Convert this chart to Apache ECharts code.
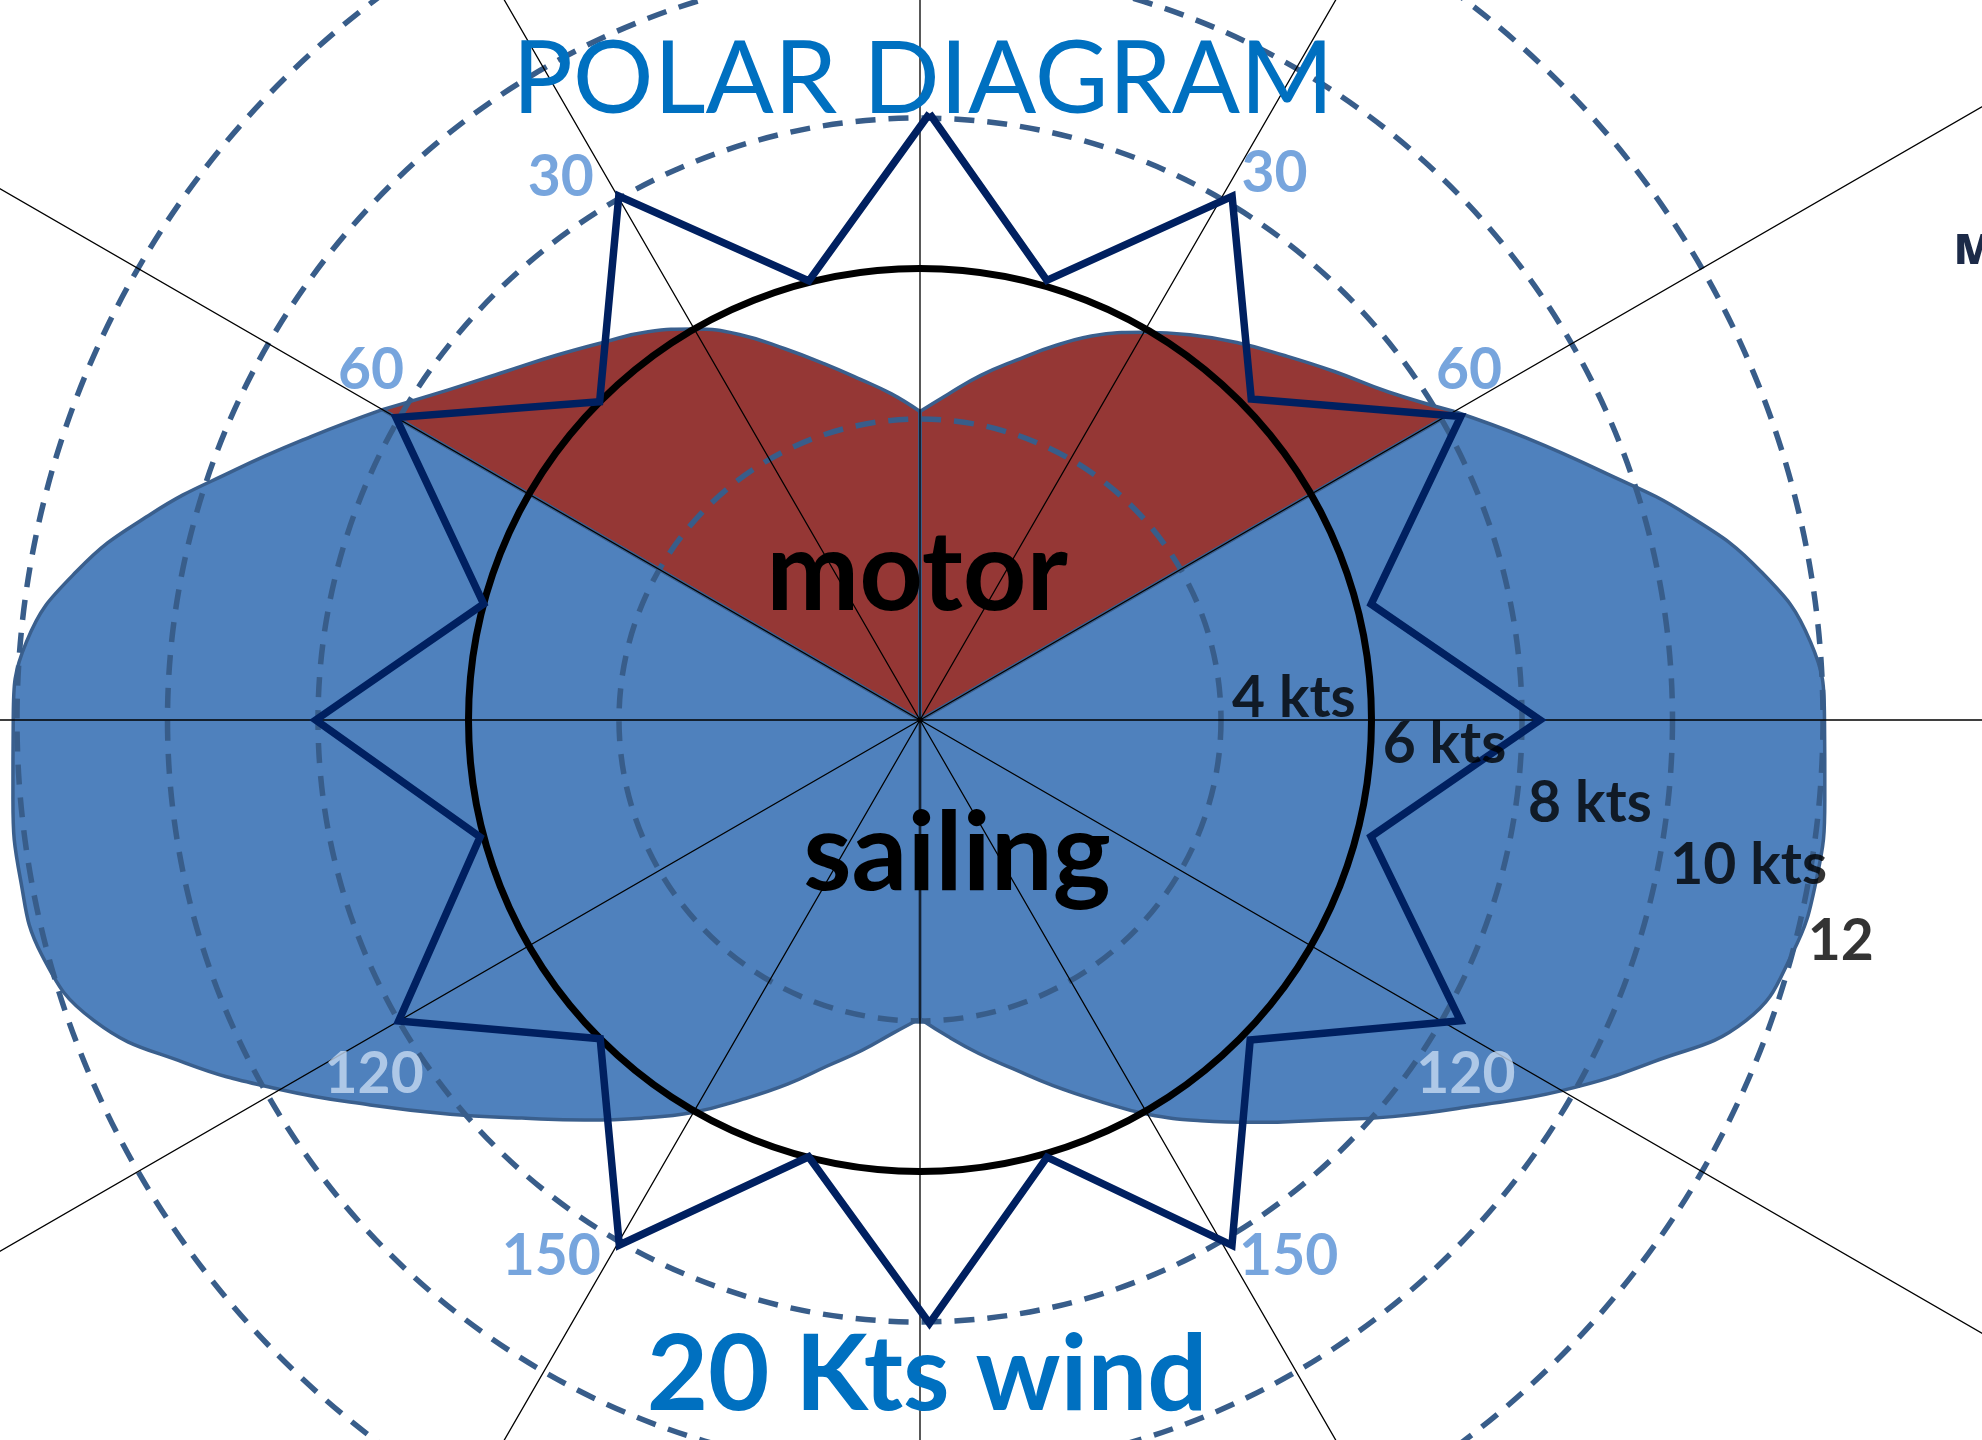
<!DOCTYPE html>
<html><head><meta charset="utf-8">
<script src="https://cdn.jsdelivr.net/npm/echarts@6/dist/echarts.min.js"></script>
<style>html,body{margin:0;padding:0;background:#fff}#c{width:1982px;height:1440px}</style>
</head><body><div id="c"></div>
<script>
// ---------------- data ----------------
// motor region (upwind), starboard side: angle (deg) / boat speed (kts)
const motorAnglesStbd = [0, 5, 10, 15, 20, 25, 30, 35, 40, 45, 50, 55, 60];
const motorSpeedStbd  = [4.1, 4.35, 4.65, 4.95, 5.3, 5.65, 5.95, 6.25, 6.55, 6.85, 7.2, 7.6, 8.2];
// motor region, port side
const motorAnglesPort = [360, 355, 350, 345, 340, 335, 330, 325, 320, 315, 310, 305, 300];
const motorSpeedPort  = [4.1, 4.35, 4.6, 4.9, 5.25, 5.65, 6.0, 6.3, 6.55, 6.85, 7.2, 7.65, 8.25];
// sailing region, starboard side
const sailAnglesStbd = [60, 65, 70, 75, 80, 85, 90, 95, 100, 105, 110, 115, 120, 125, 130, 135, 140, 145, 150, 155, 160, 165, 170, 175, 180];
const sailSpeedStbd  = [8.2, 8.88, 9.65, 10.55, 11.35, 11.88, 12.02, 12.07, 12.1, 12.0, 11.68, 10.75, 9.85, 8.95, 8.2, 7.52, 6.98, 6.5, 6.05, 5.58, 5.17, 4.8, 4.5, 4.22, 3.97];
// sailing region, port side
const sailAnglesPort = [300, 295, 290, 285, 280, 275, 270, 265, 260, 255, 250, 245, 240, 235, 230, 225, 220, 215, 210, 205, 200, 195, 190, 185, 180];
const sailSpeedPort  = [8.25, 8.92, 9.7, 10.58, 11.38, 11.92, 12.05, 12.1, 12.14, 12.08, 11.68, 10.78, 9.82, 8.92, 8.15, 7.48, 6.94, 6.46, 6.02, 5.56, 5.15, 4.76, 4.46, 4.18, 3.97];
// star-shaped line (vertices as read)
const starAngles = [0.9, 16.1, 30.8, 45.9, 60.7, 75.6, 90, 104.5, 119.1, 134.1, 149.3, 163.8, 179.1, 194.3, 209.8, 225.1, 240, 255.1, 270, 284.9, 300, 314.8, 330.1, 345.8, 360.9];
const starSpeed  = [8.06, 6.08, 8.1, 6.13, 8.24, 6.19, 8.24, 6.19, 8.22, 6.11, 8.12, 6.05, 8.02, 5.99, 8.04, 6.0, 8.0, 6.05, 8.03, 6.0, 8.04, 6.0, 8.03, 6.02, 8.06];
// motor speed ring
const motorRing = 6;
// radius axis
const radiusTicks = [0, 2, 4, 6, 8, 10, 12, 14, 16, 18];
const dashedRings = [4, 8, 10, 12];
// ring labels
const ringLabels = ['4 kts', '6 kts', '8 kts', '10 kts', '12'];
const ringLabelSpeeds = [4, 6, 8, 10, 12];
// angle labels
const angleLabels = ['30', '60', '120', '150', '150', '120', '60', '30'];
const angleLabelAngles = [33, 57.5, 123, 145.5, 214.5, 237, 302.5, 326.5];

// ---------------- layout / style ----------------
const CENTER = [920, 720];
const PX_PER_KT = 75.25;
const RMAX = radiusTicks[radiusTicks.length - 1];
const ringLabelAngles = [86, 93, 97.8, 101, 104];
const ringLabelOffset = 0.15;
const angleLabelRadius = 8.65;

const BLUE = '#4F81BD', RED = '#953735', EDGE = '#3A5F8D', RING = '#385D8A', STAR = '#002060';
const zip = (r, a) => r.map((v, i) => [v, a[i]]);
const edgeOf = (r, a) => [[r[0], a[0]], [0, a[0]], [0, a[a.length - 1]], [r[r.length - 1], a[a.length - 1]]];

const ringColors = radiusTicks.map(v => dashedRings.includes(v) ? RING : 'rgba(0,0,0,0)');
const motorColors = radiusTicks.map(v => v === motorRing ? '#000' : 'rgba(0,0,0,0)');

function fillSeries(r, a, color) {
  return {
    type: 'line', coordinateSystem: 'polar', polarIndex: 0,
    data: zip(r, a), smooth: 0.45, symbol: 'none', z: 2,
    lineStyle: { color: EDGE, width: 3.5 },
    areaStyle: { color: color, opacity: 1 }
  };
}
function edgeSeries(r, a) {
  return {
    type: 'line', coordinateSystem: 'polar', polarIndex: 0,
    data: edgeOf(r, a), symbol: 'none', z: 3,
    lineStyle: { color: EDGE, width: 3.5 }
  };
}

const chart = echarts.init(document.getElementById('c'), null, { renderer: 'canvas' });
const baseAxisHide = { axisLine: { show: false }, axisTick: { show: false }, axisLabel: { show: false } };

chart.setOption({
  animation: false,
  backgroundColor: '#fff',
  polar: [
    { center: CENTER, radius: RMAX * PX_PER_KT },
    { center: CENTER, radius: RMAX * PX_PER_KT }
  ],
  angleAxis: [
    Object.assign({ polarIndex: 0, type: 'value', min: 0, max: 360, interval: 30, startAngle: 90, clockwise: true, z: 5,
      splitLine: { show: true, lineStyle: { color: '#000', width: 1.3 } } }, baseAxisHide),
    Object.assign({ polarIndex: 1, type: 'value', min: 0, max: 360, interval: 30, startAngle: 90, clockwise: true,
      splitLine: { show: false } }, baseAxisHide)
  ],
  radiusAxis: [
    Object.assign({ polarIndex: 0, type: 'value', min: 0, max: RMAX, interval: 2, z: 5,
      splitLine: { show: true, lineStyle: { color: ringColors, width: 5.5, type: [20, 13] } } }, baseAxisHide),
    Object.assign({ polarIndex: 1, type: 'value', min: 0, max: RMAX, interval: 2, z: 7,
      splitLine: { show: true, lineStyle: { color: motorColors, width: 7 } } }, baseAxisHide)
  ],
  series: [
    fillSeries(sailSpeedStbd, sailAnglesStbd, BLUE),
    fillSeries(sailSpeedPort, sailAnglesPort, BLUE),
    fillSeries(motorSpeedStbd, motorAnglesStbd, RED),
    fillSeries(motorSpeedPort, motorAnglesPort, RED),
    edgeSeries(sailSpeedStbd, sailAnglesStbd),
    edgeSeries(sailSpeedPort, sailAnglesPort),
    edgeSeries(motorSpeedStbd, motorAnglesStbd),
    edgeSeries(motorSpeedPort, motorAnglesPort),
    {
      type: 'line', coordinateSystem: 'polar', polarIndex: 0, z: 8,
      data: zip(starSpeed, starAngles), symbol: 'none',
      lineStyle: { color: STAR, width: 7.5, join: 'miter' }
    },
    {
      type: 'scatter', coordinateSystem: 'polar', polarIndex: 0, z: 10,
      symbolSize: 1, itemStyle: { color: 'rgba(0,0,0,0)' },
      data: ringLabels.map((t, i) => ({ name: t, value: [ringLabelSpeeds[i] + ringLabelOffset, ringLabelAngles[i]] })),
      label: { show: true, position: 'right', distance: 0, formatter: p => p.name,
        color: '#000', fontFamily: 'Lato', fontWeight: 'bold', fontSize: 57 }
    },
    {
      type: 'scatter', coordinateSystem: 'polar', polarIndex: 0, z: 10,
      symbolSize: 1, itemStyle: { color: 'rgba(0,0,0,0)' },
      data: angleLabels.map((t, i) => ({ name: t, value: [angleLabelRadius, angleLabelAngles[i]],
        label: { color: t === '120' ? '#C6D9F1' : '#558ED5' } })),
      label: { show: true, position: 'inside', formatter: p => p.name,
        fontFamily: 'Lato', fontWeight: 'bold', fontSize: 57 }
    }
  ],
  graphic: [
    { type: 'text', x: 923, y: 80, z: 20, style: { text: 'POLAR DIAGRAM', fill: '#0070C0', fontFamily: 'Lato', fontWeight: 400, fontSize: 101, align: 'center', verticalAlign: 'middle' } },
    { type: 'text', x: 927, y: 1376, z: 20, style: { text: '20 Kts wind', fill: '#0070C0', fontFamily: 'Lato', fontWeight: 'bold', fontSize: 106, align: 'center', verticalAlign: 'middle' } },
    { type: 'text', x: 917, y: 574, z: 20, style: { text: 'motor', fill: '#000', fontFamily: 'Lato', fontWeight: 'bold', fontSize: 111, align: 'center', verticalAlign: 'middle' } },
    { type: 'text', x: 957, y: 855, z: 20, style: { text: 'sailing', fill: '#000', fontFamily: 'Lato', fontWeight: 'bold', fontSize: 110, align: 'center', verticalAlign: 'middle' } },
    { type: 'text', x: 1954, y: 252, z: 20, style: { text: 'Motor', fill: '#1C2A48', fontFamily: 'Open Sans', fontWeight: 800, fontSize: 42, align: 'left', verticalAlign: 'middle' } }
  ]
});
</script></body></html>
